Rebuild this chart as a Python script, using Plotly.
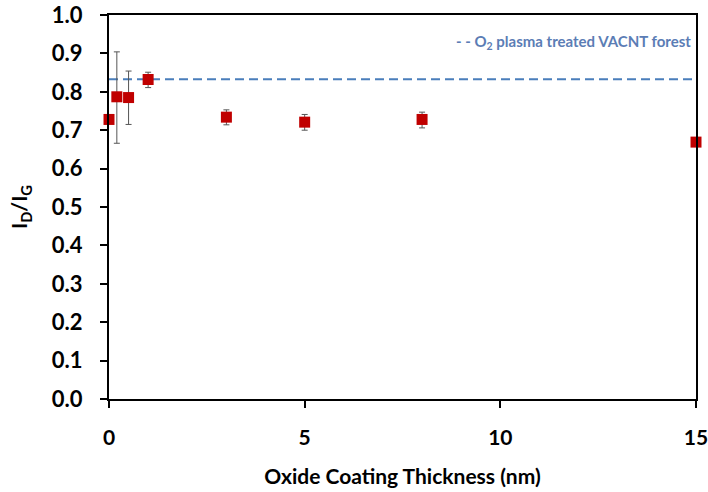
import plotly.graph_objects as go

thickness = [0, 0.2, 0.5, 1, 3, 5, 8, 15]
ratio = [0.728, 0.787, 0.785, 0.832, 0.734, 0.721, 0.728, 0.669]
err_plus = [0.0, 0.117, 0.069, 0.019, 0.019, 0.020, 0.019, 0.0]
err_minus = [0.0, 0.121, 0.070, 0.021, 0.020, 0.021, 0.022, 0.0]
ref_x = [0, 15]
ref_y = [0.833, 0.833]
x_ticks = [0, 5, 10, 15]
y_ticks = [0.0, 0.1, 0.2, 0.3, 0.4, 0.5, 0.6, 0.7, 0.8, 0.9, 1.0]

FONT = "Lato"

fig = go.Figure()
fig.add_trace(go.Scatter(
    x=ref_x, y=ref_y, mode="lines",
    line=dict(color="#4a7ebb", width=2, dash="9px,5px"),
    showlegend=False, hoverinfo="skip", cliponaxis=False,
))
fig.add_trace(go.Scatter(
    x=thickness, y=ratio, mode="markers",
    marker=dict(symbol="square", size=11, color="#c00000"),
    error_y=dict(type="data", symmetric=False, array=err_plus, arrayminus=err_minus,
                 color="#555555", thickness=1, width=3),
    showlegend=False, cliponaxis=False,
))

fig.add_annotation(
    xref="paper", yref="paper", x=0.995, y=0.93, xanchor="right", yanchor="middle",
    text="- - O<sub>2</sub> plasma treated VACNT forest", showarrow=False,
    font=dict(family=FONT, size=15, color="#5b7db5", weight="bold"),
)

axis_common = dict(
    showgrid=False, zeroline=False, showline=True, linecolor="black", linewidth=2,
    mirror=True, ticks="outside", ticklen=7, tickwidth=1.5, tickcolor="black",
    ticklabeloverflow="allow", automargin=False,
)

fig.update_xaxes(
    range=[0, 15], tickvals=x_ticks, ticktext=[str(v) for v in x_ticks],
    ticklabelstandoff=12,
    tickfont=dict(family=FONT, size=21, color="black", weight="bold"),
    title=dict(text="Oxide Coating Thickness (nm)", standoff=21,
               font=dict(family=FONT, size=21, color="black", weight="bold")),
    **axis_common,
)
fig.update_yaxes(
    range=[0, 1.0], tickvals=y_ticks, ticktext=[f"{v:.1f}" for v in y_ticks],
    ticklabelstandoff=13,
    tickfont=dict(family=FONT, size=22, color="black", weight="bold"),
    title=dict(text="I<sub>D</sub>/I<sub>G</sub>", standoff=18,
               font=dict(family=FONT, size=21, color="black", weight="bold")),
    **axis_common,
)

fig.update_layout(
    width=708, height=492,
    margin=dict(l=109, r=12, t=15, b=93, autoexpand=False),
    plot_bgcolor="white", paper_bgcolor="white",
    font=dict(family=FONT),
)

fig.write_html("out.html", config={"displayModeBar": False},
               post_script="document.body.style.margin='0';")
